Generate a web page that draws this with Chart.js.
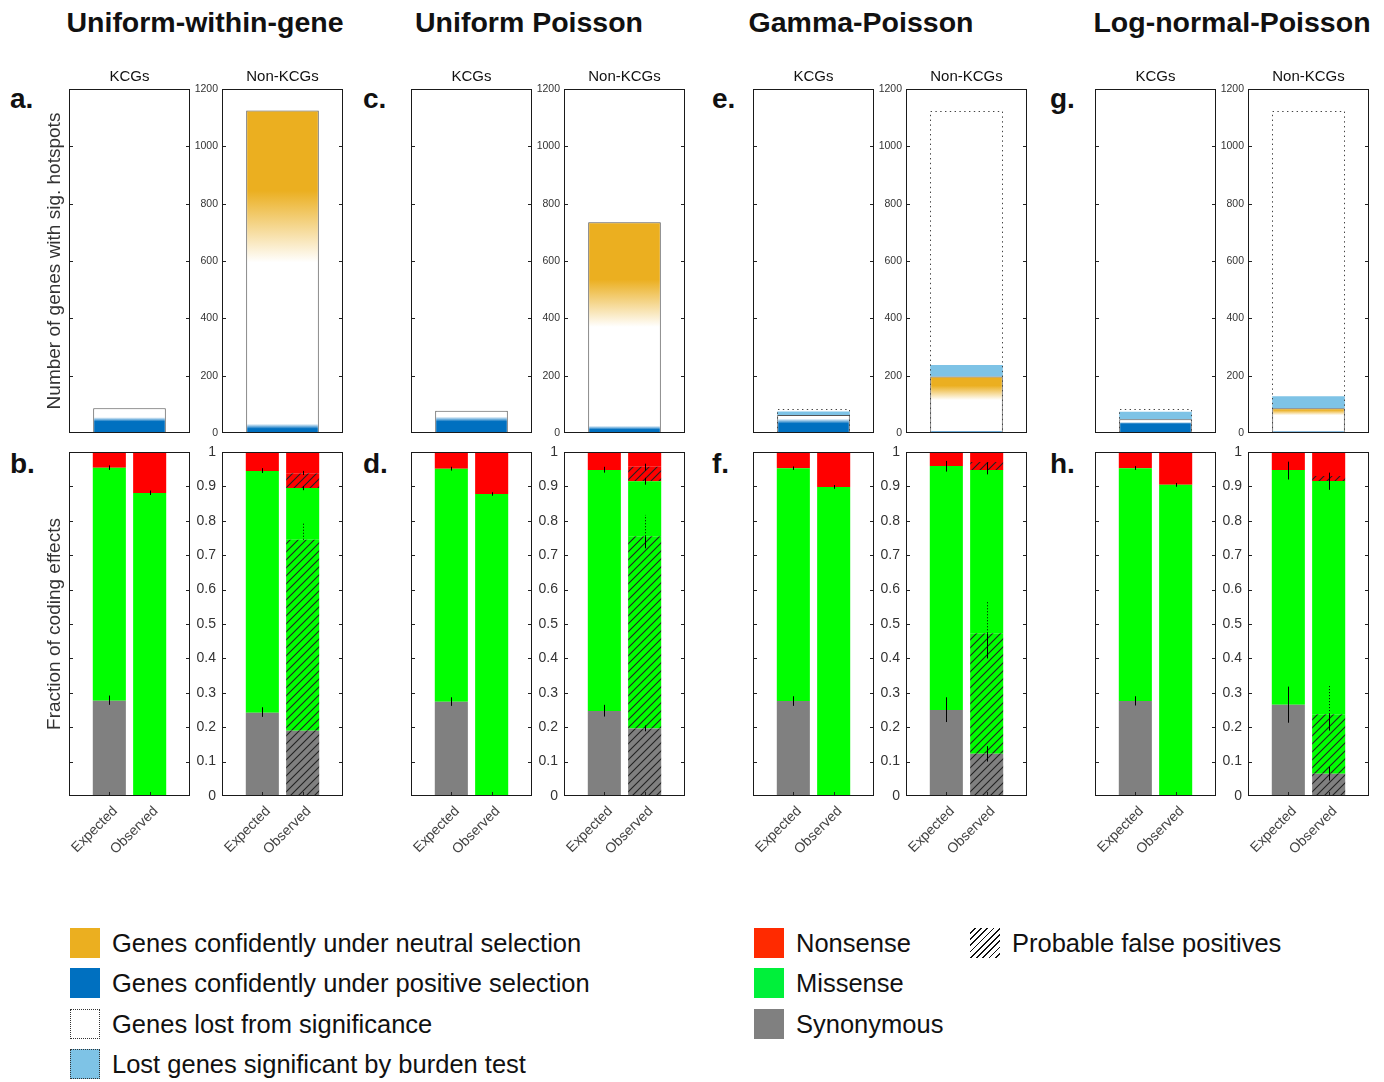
<!DOCTYPE html>
<html>
<head>
<meta charset="utf-8">
<title>Hotspot significance under four background models</title>
<script src="https://cdn.jsdelivr.net/npm/chart.js@4.4.1/dist/chart.umd.min.js"></script>
<style>
  html, body { margin: 0; padding: 0; background: #fff; }
  body { position: relative; width: 1384px; height: 1082px; overflow: hidden;
         font-family: "Liberation Sans", Arial, Helvetica, sans-serif; color: #111; }
  canvas { position: absolute; }
  .model { position: absolute; top: 5px; font-size: 28.5px; font-weight: bold; white-space: nowrap;
           transform: translateX(-50%); line-height: 34px; }
  .letter { position: absolute; font-size: 28px; font-weight: bold; line-height: 30px; }
  .sw { position: absolute; width: 30px; height: 30px; box-sizing: border-box; }
  .lt { position: absolute; font-size: 25.5px; line-height: 30px; white-space: nowrap; color: #111; }
</style>
</head>
<body>

<div class="model" style="left:205px">Uniform-within-gene</div>
<div class="model" style="left:529px">Uniform Poisson</div>
<div class="model" style="left:861px">Gamma-Poisson</div>
<div class="model" style="left:1232px">Log-normal-Poisson</div>

<div class="letter" style="left:10px;top:84px">a.</div>
<div class="letter" style="left:10px;top:449px">b.</div>
<div class="letter" style="left:363px;top:84px">c.</div>
<div class="letter" style="left:363px;top:449px">d.</div>
<div class="letter" style="left:712px;top:84px">e.</div>
<div class="letter" style="left:712px;top:449px">f.</div>
<div class="letter" style="left:1050px;top:84px">g.</div>
<div class="letter" style="left:1050px;top:449px">h.</div>

<!-- legend -->
<div class="sw" style="left:70px;top:928px;background:#EBAF20"></div>
<div class="lt" style="left:112px;top:928px">Genes confidently under neutral selection</div>
<div class="sw" style="left:70px;top:968px;background:#0070C0"></div>
<div class="lt" style="left:112px;top:968px">Genes confidently under positive selection</div>
<div class="sw" style="left:70px;top:1009px;background:#fff;border:1px dotted #333"></div>
<div class="lt" style="left:112px;top:1009px">Genes lost from significance</div>
<div class="sw" style="left:70px;top:1049px;background:#7EC3E6;border:1px dotted #333"></div>
<div class="lt" style="left:112px;top:1049px">Lost genes significant by burden test</div>

<div class="sw" style="left:754px;top:928px;background:#FF2A00"></div>
<div class="lt" style="left:796px;top:928px">Nonsense</div>
<div class="sw" style="left:754px;top:968px;background:#00F03A"></div>
<div class="lt" style="left:796px;top:968px">Missense</div>
<div class="sw" style="left:754px;top:1009px;background:#808080"></div>
<div class="lt" style="left:796px;top:1009px">Synonymous</div>
<div class="sw" style="left:970px;top:928px;background:repeating-linear-gradient(135deg,#fff 0 3.2px,#111 3.2px 4.4px)"></div>
<div class="lt" style="left:1012px;top:928px">Probable false positives</div>

<script>
// ---------------------------------------------------------------
// Data
// ---------------------------------------------------------------
const models = ['Uniform-within-gene', 'Uniform Poisson', 'Gamma-Poisson', 'Log-normal-Poisson'];
const geneSets = ['KCGs', 'Non-KCGs'];
const barLabels = ['Expected', 'Observed'];

// Genes with significant hotspots, per model: [KCGs, Non-KCGs]
const sigGenes     = [[86, 1125], [78, 735], [63, 197], [48, 86]];
// Genes lost from significance but significant by the burden test
const burdenGenes  = [[0, 0], [0, 0], [12, 40], [26, 42]];
// Genes significant under the uniform-within-gene model (outline of lost genes)
const lostOutline  = [[null, null], [null, null], [85, 1125], [85, 1125]];

// Confidence bands inside the significant bar (gene counts)
const positiveSure = [[40, 15], [40, 12], [33, 3], [32, 3]];
const positiveEdge = [[55, 32], [57, 25], [50, 8], [38, 7]];
const neutralEdge  = [[null, 595], [null, 370], [null, 115], [null, 62]];
const neutralSure  = [[null, 845], [null, 535], [null, 165], [null, 80]];

const countTicks = { min: 0, max: 1200, step: 200 };
const fractionTicks = { min: 0, max: 1, step: 0.1 };

// Fraction of coding effects per model: [KCG Expected, KCG Observed, Non-KCG Expected, Non-KCG Observed]
const synonymous = [
  [0.277, 0.002, 0.242, 0.190],
  [0.274, 0.003, 0.247, 0.196],
  [0.276, 0.000, 0.250, 0.123],
  [0.276, 0.000, 0.265, 0.065]
];
const missense = [
  [0.677, 0.879, 0.703, 0.705],
  [0.677, 0.875, 0.701, 0.719],
  [0.677, 0.898, 0.709, 0.825],
  [0.677, 0.905, 0.683, 0.851]
];
const nonsense = [
  [0.046, 0.119, 0.055, 0.105],
  [0.049, 0.122, 0.052, 0.085],
  [0.047, 0.102, 0.041, 0.052],
  [0.047, 0.095, 0.052, 0.084]
];
// Probable false positives among observed Non-KCG hotspots
const fpSynonymous = [0.190, 0.196, 0.123, 0.065];
const fpMissense   = [0.555, 0.559, 0.350, 0.173];
const fpNonsense   = [0.043, 0.042, 0.023, 0.014];

// Intervals: [geneSet, bar, low, high, dotted]
const intervals = [
  [[0,0,0.265,0.292],[0,0,0.948,0.961],[0,1,0.875,0.888],
   [1,0,0.230,0.258],[1,0,0.939,0.953],[1,1,0.889,0.901],[1,1,0.933,0.945],[1,1,0.745,0.795,1]],
  [[0,0,0.262,0.287],[0,0,0.946,0.957],[0,1,0.873,0.883],
   [1,0,0.231,0.265],[1,0,0.940,0.957],[1,1,0.905,0.925],[1,1,0.946,0.966],
   [1,1,0.720,0.755],[1,1,0.755,0.817,1],[1,1,0.188,0.205]],
  [[0,0,0.262,0.290],[0,0,0.948,0.958],[0,1,0.893,0.904],
   [1,0,0.215,0.287],[1,0,0.943,0.974],[1,1,0.935,0.970],
   [1,1,0.400,0.473],[1,1,0.473,0.565,1],[1,1,0.100,0.145]],
  [[0,0,0.263,0.290],[0,0,0.948,0.959],[0,1,0.899,0.910],
   [1,0,0.213,0.318],[1,0,0.920,0.972],[1,1,0.890,0.940],
   [1,1,0.190,0.238],[1,1,0.238,0.320,1],[1,1,0.045,0.085]]
];

// ---------------------------------------------------------------
// Styling and layout
// ---------------------------------------------------------------
const YELLOW = '#EBAF20', BLUE = '#0070C0', LIGHT_BLUE = '#7EC3E6', WHITE = '#FFFFFF';
const GREY = '#808080', GREEN = '#00FF00', RED = '#FF0000';

const BOX_W = 121, BOX_H = 344, SIDE = 32, TITLE_H = 21, PAD_TOP = 20;
const pairLeft = [69, 411, 753, 1095];
const PAIR_STEP = 153;
const TOP_Y = 89, BOTTOM_Y = 452;
const AXIS_TITLE = 'Number of genes with sig. hotspots';
const AXIS_TITLE_B = 'Fraction of coding effects';

Chart.defaults.font.family = '"Liberation Sans", Arial, Helvetica, sans-serif';
Chart.defaults.color = '#333';
Chart.defaults.animation = false;

function makeCanvas(left, top, w, h) {
  const c = document.createElement('canvas');
  c.width = w; c.height = h;
  c.style.left = left + 'px'; c.style.top = top + 'px';
  c.style.width = w + 'px'; c.style.height = h + 'px';
  document.body.appendChild(c);
  return c;
}

function hatch(base) {
  const s = 8;
  const c = document.createElement('canvas');
  c.width = c.height = s;
  const g = c.getContext('2d');
  g.fillStyle = base; g.fillRect(0, 0, s, s);
  g.strokeStyle = '#222'; g.lineWidth = 1.1;
  g.beginPath();
  g.moveTo(-1, s + 1); g.lineTo(s + 1, -1);
  g.moveTo(-1, 1); g.lineTo(1, -1);
  g.moveTo(s - 1, s + 1); g.lineTo(s + 1, s - 1);
  g.stroke();
  return g.createPattern(c, 'repeat');
}

// Frame, inward tick marks, dotted outlines and intervals
const framePlugin = {
  id: 'frame',
  afterDatasetsDraw(chart, args, opts) {
    const ctx = chart.ctx, a = chart.chartArea, y = chart.scales.y;
    ctx.save();

    // dotted outlines of genes lost from significance
    chart.data.datasets.forEach((ds, di) => {
      if (!ds.dottedOutline) return;
      chart.getDatasetMeta(di).data.forEach((bar, i) => {
        if (ds.data[i] == null) return;
        const p = bar.getProps(['x', 'y', 'base', 'width'], true);
        ctx.setLineDash([1.4, 3.4]);
        ctx.strokeStyle = '#444';
        ctx.lineWidth = 1;
        const l = Math.round(p.x - p.width / 2) + 0.5, r = Math.round(p.x + p.width / 2) - 0.5;
        const t = Math.round(p.y) + 0.5, b = Math.round(p.base);
        ctx.beginPath();
        ctx.moveTo(l, b); ctx.lineTo(l, t); ctx.lineTo(r, t); ctx.lineTo(r, b);
        ctx.stroke();
        ctx.setLineDash([]);
      });
    });

    // intervals
    (opts.intervals || []).forEach(iv => {
      const x = Math.round(chart.scales.x.getPixelForValue(iv[0] + 1)) + 0.5;
      ctx.strokeStyle = '#000';
      ctx.lineWidth = 1;
      ctx.setLineDash(iv[3] ? [1, 2] : []);
      ctx.beginPath();
      ctx.moveTo(x, y.getPixelForValue(iv[1]));
      ctx.lineTo(x, y.getPixelForValue(iv[2]));
      ctx.stroke();
    });
    ctx.setLineDash([]);

    // inward tick marks
    ctx.strokeStyle = '#222';
    ctx.lineWidth = 1;
    ctx.beginPath();
    y.ticks.forEach(t => {
      if (t.value <= y.min || t.value >= y.max) return;
      const py = Math.round(y.getPixelForValue(t.value)) + 0.5;
      ctx.moveTo(a.left, py); ctx.lineTo(a.left + 4, py);
      ctx.moveTo(a.right, py); ctx.lineTo(a.right - 4, py);
    });
    (opts.xTicks || []).forEach(i => {
      const px = Math.round(chart.scales.x.getPixelForValue(i)) + 0.5;
      ctx.moveTo(px, a.bottom); ctx.lineTo(px, a.bottom - 4);
    });
    ctx.stroke();

    // box
    ctx.strokeStyle = '#1a1a1a';
    ctx.strokeRect(a.left + 0.5, a.top + 0.5, a.width - 1, a.height - 1);
    ctx.restore();
  }
};

function sideScale(pos) {
  return {
    type: 'linear', position: pos, min: 0, max: 1,
    ticks: { display: false }, grid: { display: false, drawTicks: false }, border: { display: false },
    afterFit: s => { s.width = SIDE; }
  };
}

function selectionFill(m, g) {
  return (c) => {
    const chart = c.chart;
    if (!chart.chartArea) return WHITE;
    const y = chart.scales.y;
    const total = sigGenes[m][g];
    const grad = chart.ctx.createLinearGradient(0, y.getPixelForValue(0), 0, y.getPixelForValue(total));
    const f = v => Math.min(1, Math.max(0, v / total));
    grad.addColorStop(0, BLUE);
    grad.addColorStop(f(positiveSure[m][g]), BLUE);
    grad.addColorStop(f(positiveEdge[m][g]), WHITE);
    if (neutralEdge[m][g] != null) {
      grad.addColorStop(f(neutralEdge[m][g]), WHITE);
      grad.addColorStop(f(neutralSure[m][g]), YELLOW);
      grad.addColorStop(1, YELLOW);
    } else {
      grad.addColorStop(1, WHITE);
    }
    return grad;
  };
}

const plainNumber = v => String(Number(Number(v).toFixed(2)));

// ---------------------------------------------------------------
// Upper row: number of genes with significant hotspots
// ---------------------------------------------------------------
function countChart(m, g) {
  const boxLeft = pairLeft[m] + g * PAIR_STEP;
  const canvas = makeCanvas(boxLeft - SIDE, TOP_Y - TITLE_H, BOX_W + 2 * SIDE, TITLE_H + BOX_H + 12);
  const showLabels = g === 1;
  const withTitle = m === 0 && g === 0;
  return new Chart(canvas, {
    type: 'bar',
    data: {
      labels: [geneSets[g]],
      datasets: [
        { label: 'Significant', data: [sigGenes[m][g]], yAxisID: 'y', stack: 'main', grouped: false,
          backgroundColor: selectionFill(m, g), borderColor: '#555', borderWidth: 1, borderSkipped: 'bottom' },
        { label: 'Burden test', data: [burdenGenes[m][g] || null], yAxisID: 'y', stack: 'main', grouped: false,
          backgroundColor: LIGHT_BLUE, borderWidth: 0 },
        { label: 'Lost', data: [lostOutline[m][g]], yAxisID: 'y', stack: 'outline', grouped: false,
          backgroundColor: 'rgba(0,0,0,0)', borderWidth: 0, dottedOutline: true }
      ]
    },
    options: {
      responsive: false, devicePixelRatio: 1,
      layout: { padding: { top: 0, bottom: 12, left: 0, right: 0 } },
      datasets: { bar: { categoryPercentage: 0.6, barPercentage: 1 } },
      plugins: {
        legend: { display: false }, tooltip: { enabled: false },
        title: { display: true, text: geneSets[g], color: '#111',
                 font: { size: 15, weight: 'normal', lineHeight: 1.2 }, padding: { top: 0, bottom: 3 } },
        frame: {}
      },
      scales: {
        x: { type: 'category', display: false, stacked: true, offset: true },
        y: {
          type: 'linear', position: 'left', stacked: true,
          min: countTicks.min, max: countTicks.max,
          ticks: { display: showLabels, stepSize: countTicks.step, padding: 4, color: '#333',
                   font: { size: 10.5 }, callback: plainNumber },
          grid: { display: false, drawTicks: false }, border: { display: false },
          title: { display: withTitle, text: AXIS_TITLE, color: '#333', font: { size: 19 }, padding: { top: 6, bottom: 0 } },
          afterFit: s => { s.width = SIDE; }
        },
        yR: sideScale('right')
      }
    },
    plugins: [framePlugin]
  });
}

// ---------------------------------------------------------------
// Lower row: fraction of coding effects
// ---------------------------------------------------------------
function fractionChart(m, g) {
  const boxLeft = pairLeft[m] + g * PAIR_STEP;
  const canvas = makeCanvas(boxLeft - SIDE, BOTTOM_Y - PAD_TOP, BOX_W + 2 * SIDE, PAD_TOP + BOX_H + 70);
  const showLabels = g === 1;
  const withTitle = m === 0 && g === 0;
  const e = g * 2, o = g * 2 + 1;
  const fpS = g === 1 ? fpSynonymous[m] : 0;
  const fpM = g === 1 ? fpMissense[m] : 0;
  const fpN = g === 1 ? fpNonsense[m] : 0;
  const row = (exp, obs) => [null, exp, obs, null];
  const hatchGrey = hatch(GREY), hatchGreen = hatch(GREEN), hatchRed = hatch(RED);
  return new Chart(canvas, {
    type: 'bar',
    data: {
      labels: ['', ...barLabels, ''],
      datasets: [
        { label: 'Synonymous (false positive)', data: row(0, fpS), backgroundColor: hatchGrey },
        { label: 'Synonymous', data: row(synonymous[m][e], synonymous[m][o] - fpS), backgroundColor: GREY },
        { label: 'Missense (false positive)', data: row(0, fpM), backgroundColor: hatchGreen },
        { label: 'Missense', data: row(missense[m][e], missense[m][o] - fpM), backgroundColor: GREEN },
        { label: 'Nonsense (false positive)', data: row(0, fpN), backgroundColor: hatchRed },
        { label: 'Nonsense', data: row(nonsense[m][e], nonsense[m][o] - fpN), backgroundColor: RED }
      ].map(ds => Object.assign(ds, { yAxisID: 'y', stack: 's', borderWidth: 0 }))
    },
    options: {
      responsive: false, devicePixelRatio: 1,
      layout: { padding: { top: PAD_TOP, bottom: 0, left: 0, right: 0 } },
      datasets: { bar: { categoryPercentage: 0.82, barPercentage: 1 } },
      plugins: {
        legend: { display: false }, tooltip: { enabled: false },
        frame: { intervals: intervals[m].filter(iv => iv[0] === g).map(iv => [iv[1], iv[2], iv[3], iv[4]]), xTicks: [1, 2] }
      },
      scales: {
        x: {
          type: 'category', stacked: true, offset: false,
          grid: { display: false, drawTicks: false, offset: false }, border: { display: false },
          ticks: { autoSkip: false, minRotation: 45, maxRotation: 45, padding: 7, labelOffset: 6,
                   color: '#444', font: { size: 14 } },
          afterFit: s => { s.height = 70; }
        },
        y: {
          type: 'linear', position: 'left', stacked: true,
          min: fractionTicks.min, max: fractionTicks.max,
          ticks: { display: showLabels, stepSize: fractionTicks.step, padding: 6, color: '#333',
                   font: { size: 14 }, callback: plainNumber },
          grid: { display: false, drawTicks: false }, border: { display: false },
          title: { display: withTitle, text: AXIS_TITLE_B, color: '#333', font: { size: 19 }, padding: { top: 6, bottom: 0 } },
          afterFit: s => { s.width = SIDE; }
        },
        yR: sideScale('right')
      }
    },
    plugins: [framePlugin]
  });
}

models.forEach((name, m) => {
  geneSets.forEach((set, g) => {
    countChart(m, g);
    fractionChart(m, g);
  });
});
</script>
</body>
</html>
